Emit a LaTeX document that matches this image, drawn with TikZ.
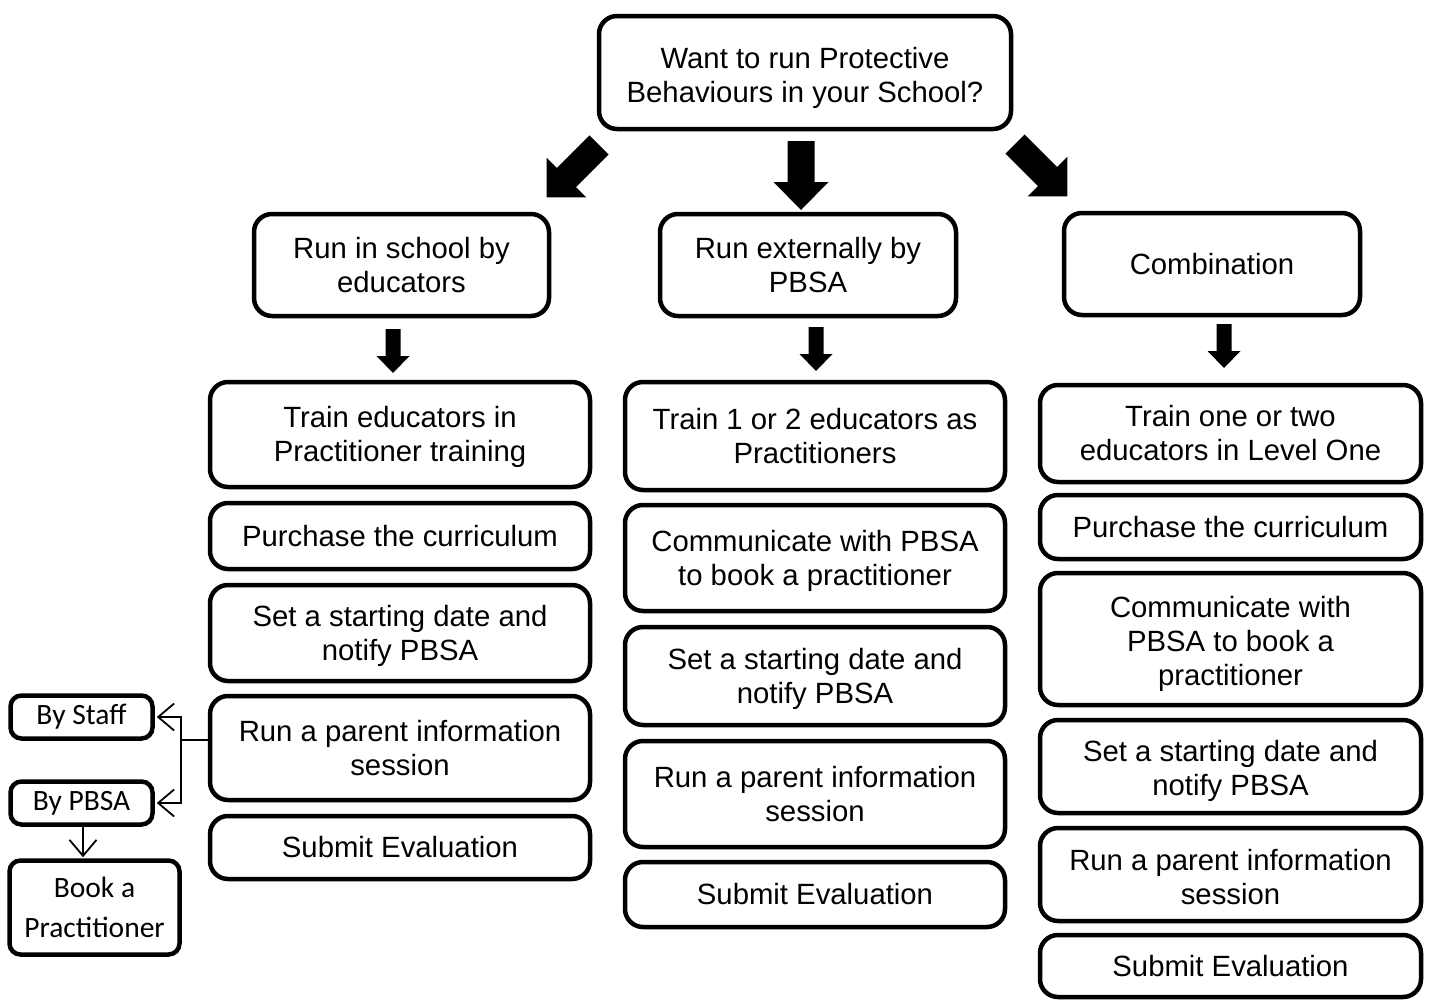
\documentclass[tikz,border=0pt]{standalone}
\usepackage{fontspec}
\setmainfont{Liberation Sans}
\newfontfamily\calfont{Carlito}
\usetikzlibrary{arrows.meta}
\newcommand\upstrut{\rule{0pt}{27pt}}
\tikzset{
  flowbox/.style={draw, line width=4.5pt, rounded corners=18pt, align=center, inner sep=0pt,
    font=\fontsize{29.3}{34}\selectfont},
  smallbox/.style={draw, line width=4.5pt, rounded corners=11pt, align=center, inner sep=0pt,
    font=\calfont\fontsize{29.5}{40}\selectfont},
  thinconn/.style={line width=1.8pt, -{Straight Barb[length=16pt,width=27pt,line width=1.8pt]}},
}
\newcommand\blockarr[7]{%
  \begin{scope}[shift={(#1,#2)}, rotate=#3]
    \fill (0,{-#5/2}) -- ({#4-#7},{-#5/2}) -- ({#4-#7},{-#6/2}) -- (#4,0)
      -- ({#4-#7},{#6/2}) -- ({#4-#7},{#5/2}) -- (0,{#5/2}) -- cycle;
  \end{scope}}
\begin{document}
\begin{tikzpicture}[x=1pt,y=-1pt]
\useasboundingbox[fill=white] (0,0) rectangle (1436,1001);

% top
\node[flowbox, minimum width=412pt, minimum height=113pt] (top) at (805,72.5)
  {\rule{0pt}{32pt}Want to run Protective\\Behaviours in your School?};

% second row
\node[flowbox, minimum width=295pt, minimum height=102pt] (school) at (401.5,265)
  {Run in school by\\educators};
\node[flowbox, minimum width=296pt, minimum height=102pt] (ext) at (808,265)
  {Run externally by\\PBSA};
\node[flowbox, minimum width=296pt, minimum height=102pt] (comb) at (1212,264)
  {Combination};

% left column
\node[flowbox, minimum width=380pt, minimum height=105pt] (l1) at (400,434.5)
  {\upstrut Train educators in\\Practitioner training};
\node[flowbox, minimum width=380pt, minimum height=66pt] (l2) at (400,536)
  {Purchase the curriculum};
\node[flowbox, minimum width=380pt, minimum height=96pt] (l3) at (400,633)
  {\upstrut Set a starting date and\\notify PBSA};
\node[flowbox, minimum width=380pt, minimum height=104pt] (l4) at (400,748)
  {Run a parent information\\session};
\node[flowbox, minimum width=380pt, minimum height=63pt] (l5) at (400,847.5)
  {Submit Evaluation};

% middle column
\node[flowbox, minimum width=380pt, minimum height=108pt] (m1) at (815,436)
  {Train 1 or 2 educators as\\Practitioners};
\node[flowbox, minimum width=380pt, minimum height=106pt] (m2) at (815,558)
  {\upstrut Communicate with PBSA\\to book a practitioner};
\node[flowbox, minimum width=380pt, minimum height=98pt] (m3) at (815,676)
  {\upstrut Set a starting date and\\notify PBSA};
\node[flowbox, minimum width=380pt, minimum height=106pt] (m4) at (815,794)
  {Run a parent information\\session};
\node[flowbox, minimum width=380pt, minimum height=65pt] (m5) at (815,894.5)
  {Submit Evaluation};

% right column
\node[flowbox, minimum width=381pt, minimum height=97pt] (r1) at (1230.5,433.5)
  {Train one or two\\educators in Level One};
\node[flowbox, minimum width=381pt, minimum height=64pt] (r2) at (1230.5,527)
  {Purchase the curriculum};
\node[flowbox, minimum width=381pt, minimum height=132pt] (r3) at (1230.5,639)
  {\rule{0pt}{31pt}Communicate with\\PBSA to book a\\practitioner};
\node[flowbox, minimum width=381pt, minimum height=93pt] (r4) at (1230.5,766.5)
  {\rule{0pt}{31pt}Set a starting date and\\notify PBSA};
\node[flowbox, minimum width=381pt, minimum height=93pt] (r5) at (1230.5,874.5)
  {\upstrut Run a parent information\\session};
\node[flowbox, minimum width=381pt, minimum height=62pt] (r6) at (1230.5,966)
  {Submit Evaluation};

% left small boxes
\node[smallbox, minimum width=142pt, minimum height=43pt] (staff) at (81.5,717)
  {By Staff};
\node[smallbox, minimum width=142pt, minimum height=43pt] (pbsa) at (81.5,803)
  {By PBSA};
\node[smallbox, minimum width=170pt, minimum height=94pt] (book) at (94.5,907.5)
  {Book a\\Practitioner};

% thin connectors
\draw[line width=1.8pt] ([yshift=8pt]l4.west) -- ++(-27,0) coordinate (j);
\draw[thinconn] (j) |- ([xshift=2pt]staff.east);
\draw[thinconn] (j) |- ([xshift=2pt]pbsa.east);
\draw[thinconn] ([xshift=1.5pt]pbsa.south) -- ([xshift=1.5pt,yshift=1pt]pbsa.south |- book.north);

% block arrows: tail x, tail y, angle, length, shaft width, head width, head length
\blockarr{801}{141}{-90}{69}{27}{55}{28}
\blockarr{599}{145}{-135}{74}{27}{56}{28}
\blockarr{1015}{144}{-45}{74}{27}{56}{28}
\blockarr{393}{329}{-90}{44}{15}{33}{17}
\blockarr{816}{327}{-90}{44}{15}{33}{17}
\blockarr{1224}{324}{-90}{44}{15}{33}{17}
\end{tikzpicture}
\end{document}
